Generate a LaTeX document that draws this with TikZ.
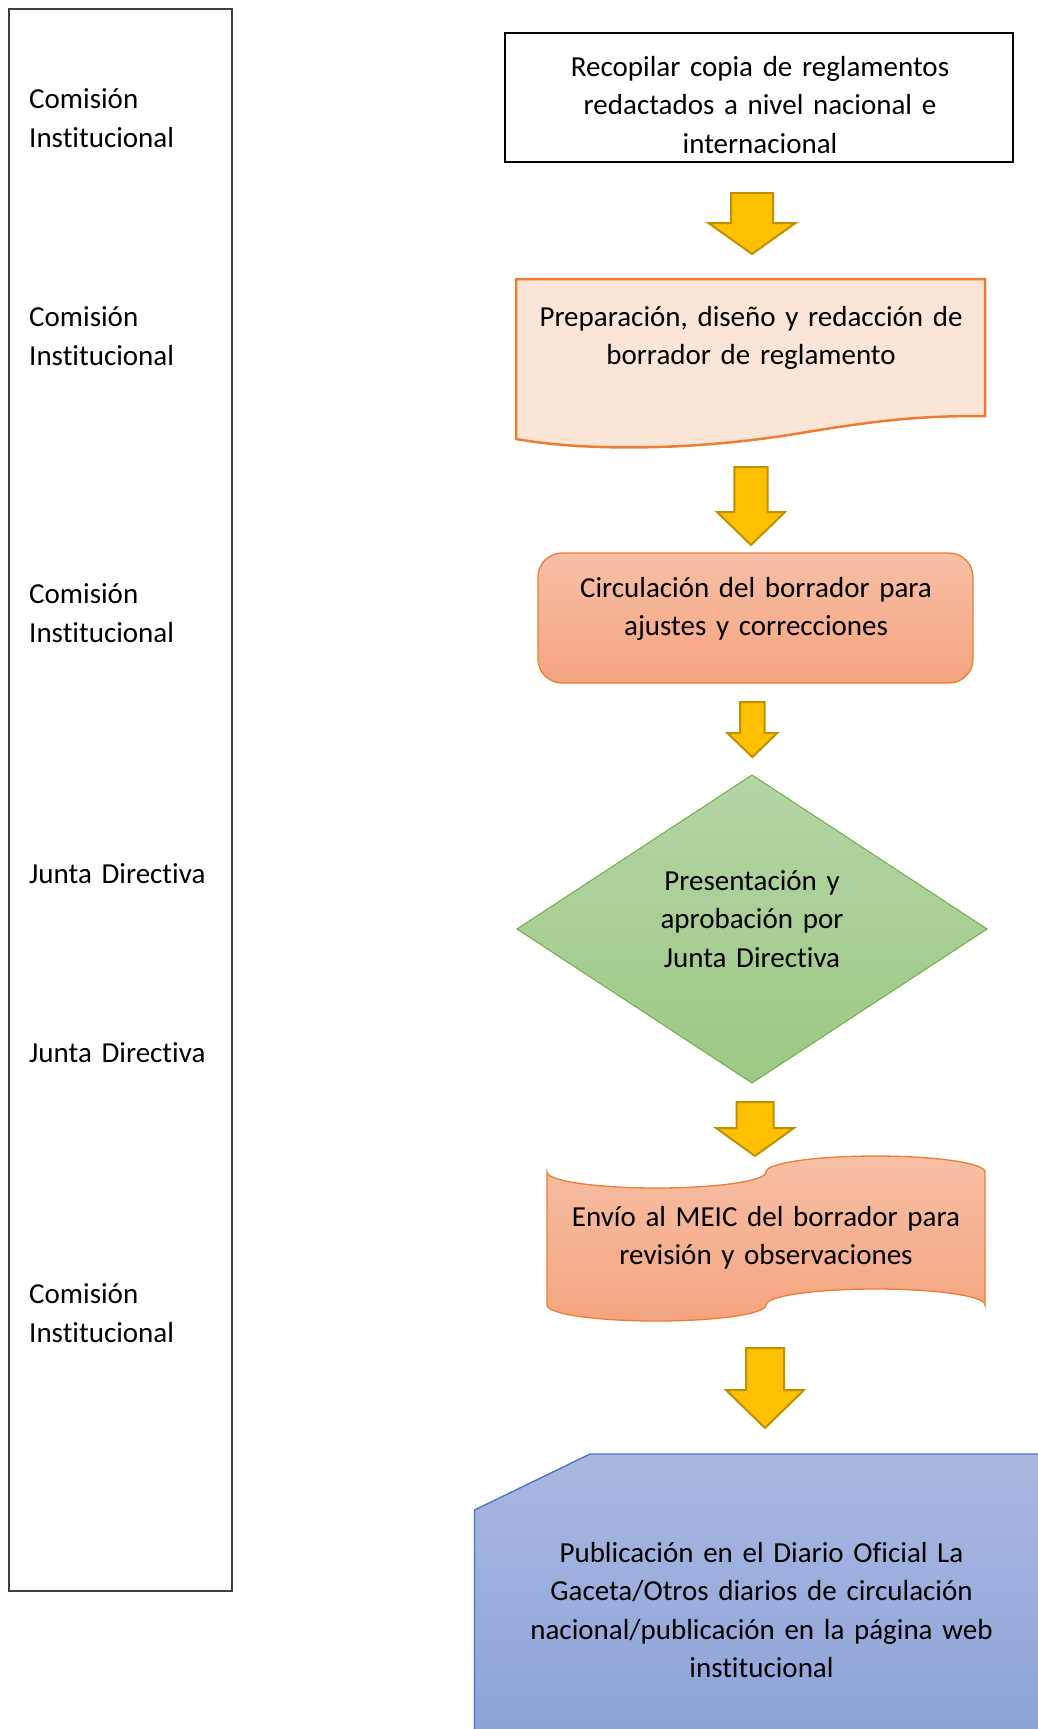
\documentclass[tikz,border=0pt]{standalone}
\usepackage{fontspec}
\setmainfont{Carlito}[Ligatures=NoCommon, WordSpace=0.88]
\definecolor{gold}{HTML}{FFC000}
\definecolor{golddk}{HTML}{BF9000}
\definecolor{orgline}{HTML}{ED7D31}
\definecolor{peach}{HTML}{FBE5D6}
\definecolor{orgtop}{HTML}{F7BFA6}
\definecolor{orgbot}{HTML}{F4A47F}
\definecolor{grntop}{HTML}{B5D5A6}
\definecolor{grnbot}{HTML}{9CC884}
\definecolor{grnline}{HTML}{70AD47}
\definecolor{blutop}{HTML}{A9B8E0}
\definecolor{blubot}{HTML}{8AA1D7}
\definecolor{bluline}{HTML}{4472C4}
\newcommand{\myblockarrow}[6]{%
  \draw[blockarrowstyle] ({#1-#5},{#2}) -- ({#1+#5},{#2}) -- ({#1+#5},{#3}) -- ({#1+#6},{#3})
    -- ({#1},{#4}) -- ({#1-#6},{#3}) -- ({#1-#5},{#3}) -- cycle;}
\tikzset{
  blockarrowstyle/.style={fill=gold, draw=golddk, line width=2pt, line join=miter},
  txt/.style={font=\fontsize{29}{38.6}\selectfont, inner sep=0pt, anchor=base, text width=500pt, align=center},
  lbl/.style={font=\fontsize{29}{39}\selectfont, inner sep=0pt, anchor=base west, text width=200pt, align=left},
}
\begin{document}
\begin{tikzpicture}[x=1pt,y=-1pt]
\useasboundingbox (0,0) rectangle (1037,1729);
\fill[white] (0,0) rectangle (1037,1729);
% left lane box
\draw[line width=1.3pt, draw=black!75] (9,9) rectangle (232,1591);
\node[lbl] (l1) at (29,108) {Comisión\\Institucional};
\node[lbl] (l2) at (29,326) {Comisión\\Institucional};
\node[lbl] (l3) at (29,603) {Comisión\\Institucional};
\node[lbl] (l4) at (29,883) {Junta Directiva};
\node[lbl] (l5) at (29,1062) {Junta Directiva};
\node[lbl] (l6) at (29,1303) {Comisión\\Institucional};
% box 1
\draw[line width=2.5pt] (505,33) rectangle (1013,162);
\node[txt] (t1) at (760,76) {Recopilar copia de reglamentos\\redactados a nivel nacional e\\internacional};
\myblockarrow{752}{193}{223}{254}{21}{43.5}
% box 2 document
\draw[fill=peach, draw=orgline, line width=2.5pt] (516,279) -- (985,279) -- (985,416)
  .. controls (930,416) and (890,418) .. (801,433)
  .. controls (700,450) and (590,452) .. (516,439) -- cycle;
\node[txt] (t2) at (751,326) {Preparación, diseño y redacción de\\borrador de reglamento};
\myblockarrow{751}{467}{512}{545}{16.7}{34}
% box 3 rounded
\path[draw=orgline, line width=1.3pt, top color=orgtop, bottom color=orgbot, rounded corners=24pt] (538,553) rectangle (973,683);
\node[txt] (t3) at (756,597) {Circulación del borrador para\\ajustes y correcciones};
\myblockarrow{752.3}{702}{733}{757}{12.3}{25}
% diamond
\path[draw=grnline, line width=1pt, top color=grntop, bottom color=grnbot] (752,775) -- (987,929) -- (752,1083) -- (517,929) -- cycle;
\node[txt] (t4) at (752,890) {Presentación y\\aprobación por\\Junta Directiva};
\myblockarrow{755}{1102}{1128}{1156}{18.5}{39}
% box 5 punched tape
\path[draw=orgline, line width=1.3pt, top color=orgtop, bottom color=orgbot]
  (547,1172) .. controls (547,1181) and (596,1188) .. (656.5,1188)
  .. controls (717,1188) and (766,1181) .. (766,1172)
  .. controls (766,1163) and (815,1156) .. (875.5,1156)
  .. controls (936,1156) and (985,1163) .. (985,1172)
  -- (985,1305)
  .. controls (985,1296) and (936,1289) .. (875.5,1289)
  .. controls (815,1289) and (766,1296) .. (766,1305)
  .. controls (766,1314) and (717,1321) .. (656.5,1321)
  .. controls (596,1321) and (547,1314) .. (547,1305) -- cycle;
\node[txt] (t5) at (766,1226) {Envío al MEIC del borrador para\\revisión y observaciones};
\myblockarrow{765}{1348}{1390}{1428}{19}{39}
% pentagon
\path[draw=bluline, line width=1.3pt, top color=blutop, bottom color=blubot] (590,1454) -- (1060,1454) -- (1060,1760) -- (474.5,1760) -- (474.5,1510) -- cycle;
\node[txt] (t6) at (761.5,1562) {Publicación en el Diario Oficial La\\Gaceta/Otros diarios de circulación\\nacional/publicación en la página web\\institucional};
\end{tikzpicture}
\end{document}
